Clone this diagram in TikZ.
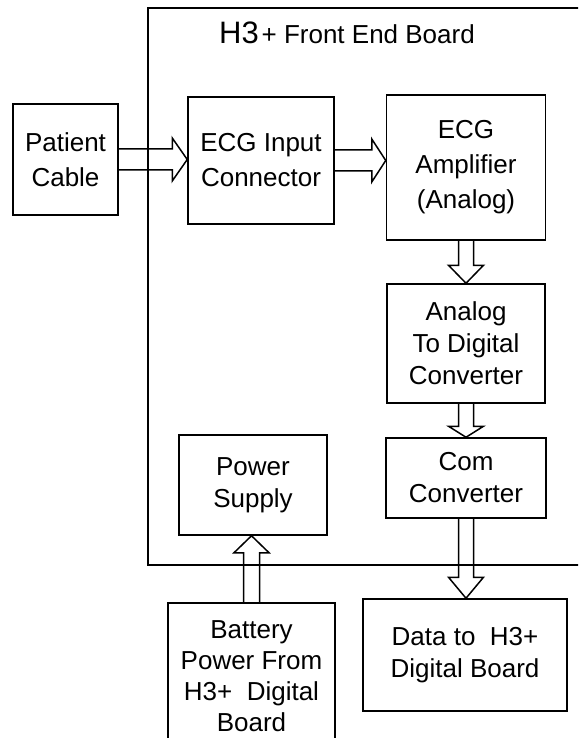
\documentclass[tikz,border=0pt]{standalone}
\usepackage{fontspec}
\setmainfont{Liberation Sans}
\usetikzlibrary{calc}

% hollow block arrow: from, to, shaft half width, head half width, head length
\newcommand{\blockarrow}[5]{%
  \coordinate (hb) at ($(#2)!#5!(#1)$);
  \draw ($(#1)!#3!90:(#2)$) -- ($(hb)!#3!90:(#2)$) -- ($(hb)!#4!90:(#2)$) -- (#2)
    -- ($(hb)!#4!-90:(#2)$) -- ($(hb)!#3!-90:(#2)$) -- ($(#1)!#3!-90:(#2)$);
}

\begin{document}
\begin{tikzpicture}[x=1pt,y=-1pt,line width=1.5pt,line join=miter,
  block/.style={draw,align=center,inner sep=0pt,
    font=\fontsize{26}{32}\selectfont}]
\useasboundingbox (0,0) rectangle (578,738);
\clip (0,0) rectangle (578,738);

% board
\draw (590,8) -| (148,565) -- (590,565);
\node (title) at (347,33) {{\fontsize{31}{31}\selectfont H3} \fontsize{26}{26}\selectfont + Front End Board};

% blocks
\node [block,minimum width=105pt,minimum height=111pt,font=\fontsize{26}{35}\selectfont] (patient) at (65.5,159.5) {Patient\\Cable};
\node [block,minimum width=146pt,minimum height=127pt,font=\fontsize{26}{35}\selectfont] (input) at (261,160.5) {ECG Input\\Connector};
\node [block,minimum width=159pt,minimum height=145pt,font=\fontsize{26}{35}\selectfont] (amp) at (466,167.5) {ECG\\Amplifier\\(Analog)};
\node [block,minimum width=158pt,minimum height=119pt] (adc) at (466,343.5) {Analog\\To Digital\\Converter};
\node [block,minimum width=160pt,minimum height=80pt] (com) at (466,478) {Com\\Converter};
\node [block,minimum width=148pt,minimum height=100pt] (power) at (253,485) {Power\\Supply};
\node [block,minimum width=167pt,minimum height=146pt,font=\fontsize{26}{31}\selectfont] (battery) at (251.5,676) {Battery\\Power From\\H3+\ \ Digital\\Board};
\node [block,minimum width=204pt,minimum height=112pt] (data) at (465,655) {Data to\ \ H3+\\Digital Board};

% arrows
\coordinate (a1) at (patient.east -| input.west);
\coordinate (a2) at (input.east -| amp.west);
\coordinate (a3) at (amp.south |- adc.north);
\coordinate (a5) at (com.south |- data.north);
\coordinate (a6) at (battery.north |- power.south);
\blockarrow{patient.east}{a1}{10.5pt}{21.5pt}{15pt}
\blockarrow{input.east}{a2}{10.5pt}{21.5pt}{14pt}
\blockarrow{amp.south}{a3}{7.5pt}{17.5pt}{18pt}
\blockarrow{adc.south}{com.north}{7.5pt}{17.5pt}{11pt}
\blockarrow{com.south}{a5}{7.5pt}{17.5pt}{21pt}
\blockarrow{battery.north}{a6}{8pt}{17.5pt}{17pt}
\end{tikzpicture}
\end{document}
